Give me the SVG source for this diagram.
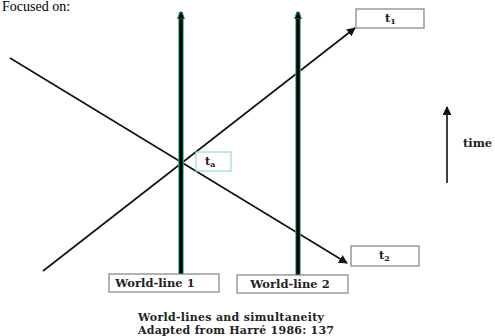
<svg xmlns="http://www.w3.org/2000/svg" width="495" height="336" viewBox="0 0 495 336">
<style>
.lbl{font-family:"DejaVu Serif",serif;font-weight:bold;font-size:11.5px;fill:#222}
.cap{font-family:"DejaVu Serif",serif;font-weight:bold;font-size:11px;fill:#222}
.box{fill:#fff;stroke:#808080;stroke-width:1.2}
.wl-edge{stroke:#2bb597;stroke-width:5.5}
.wl{stroke:#000;stroke-width:3.5}
.diag{stroke:#111;stroke-width:1.6;fill:none}
</style>
<defs>
<marker id="ah" viewBox="0 0 10 10" refX="9" refY="5" markerWidth="5.5" markerHeight="5.5" orient="auto"><path d="M0,0 L10,5 L0,10 z" fill="#111"/></marker>
<marker id="ahw" viewBox="0 0 10 10" refX="9" refY="5" markerWidth="2.2" markerHeight="2.2" orient="auto"><path d="M0,0 L10,5 L0,10 z" fill="#000" stroke="#2bb597" stroke-width="1"/></marker>
</defs>
<text x="2" y="11" font-family="Liberation Serif,serif" font-size="14">Focused on:</text>
<g id="connectors">
<line class="diag" x1="10" y1="58" x2="347" y2="263" marker-end="url(#ah)"/>
<line class="diag" x1="43" y1="271" x2="355" y2="28" marker-end="url(#ah)"/>
<line x1="447" y1="183" x2="447" y2="107" stroke="#111" stroke-width="1.6" marker-end="url(#ah)"/>
</g>
<g id="worldline1">
<line class="wl-edge" x1="181" y1="274" x2="181" y2="14"/>
<line class="wl" x1="181" y1="274" x2="181" y2="12" marker-end="url(#ahw)"/>
<rect class="box" x="109" y="274" width="110" height="18"/>
<text class="lbl" x="155" y="287" text-anchor="middle">World-line 1</text>
</g>
<g id="worldline2">
<line class="wl-edge" x1="298" y1="275" x2="298" y2="14"/>
<line class="wl" x1="298" y1="275" x2="298" y2="12" marker-end="url(#ahw)"/>
<rect class="box" x="237" y="275" width="111" height="18"/>
<text class="lbl" x="290" y="288" text-anchor="middle">World-line 2</text>
</g>
<g id="t1">
<rect class="box" x="356" y="9" width="68" height="19"/>
<text class="lbl" x="385" y="22">t<tspan font-size="8" dy="2">1</tspan></text>
</g>
<g id="t2">
<rect class="box" x="351" y="246" width="68" height="20"/>
<text class="lbl" x="379" y="259">t<tspan font-size="8" dy="2">2</tspan></text>
</g>
<g id="ta">
<rect x="196" y="152" width="35" height="19" fill="#fff" stroke="#8fe0c8" stroke-width="1.2"/>
<text class="lbl" x="205" y="165">t<tspan font-size="8" dy="2">a</tspan></text>
</g>
<g id="time">
<text class="lbl" x="463" y="147">time</text>
</g>
<g id="caption">
<text class="cap" x="138" y="321" textLength="186">World-lines and simultaneity</text>
<text class="cap" x="138" y="334" textLength="196">Adapted from Harré 1986: 137</text>
</g>
</svg>
